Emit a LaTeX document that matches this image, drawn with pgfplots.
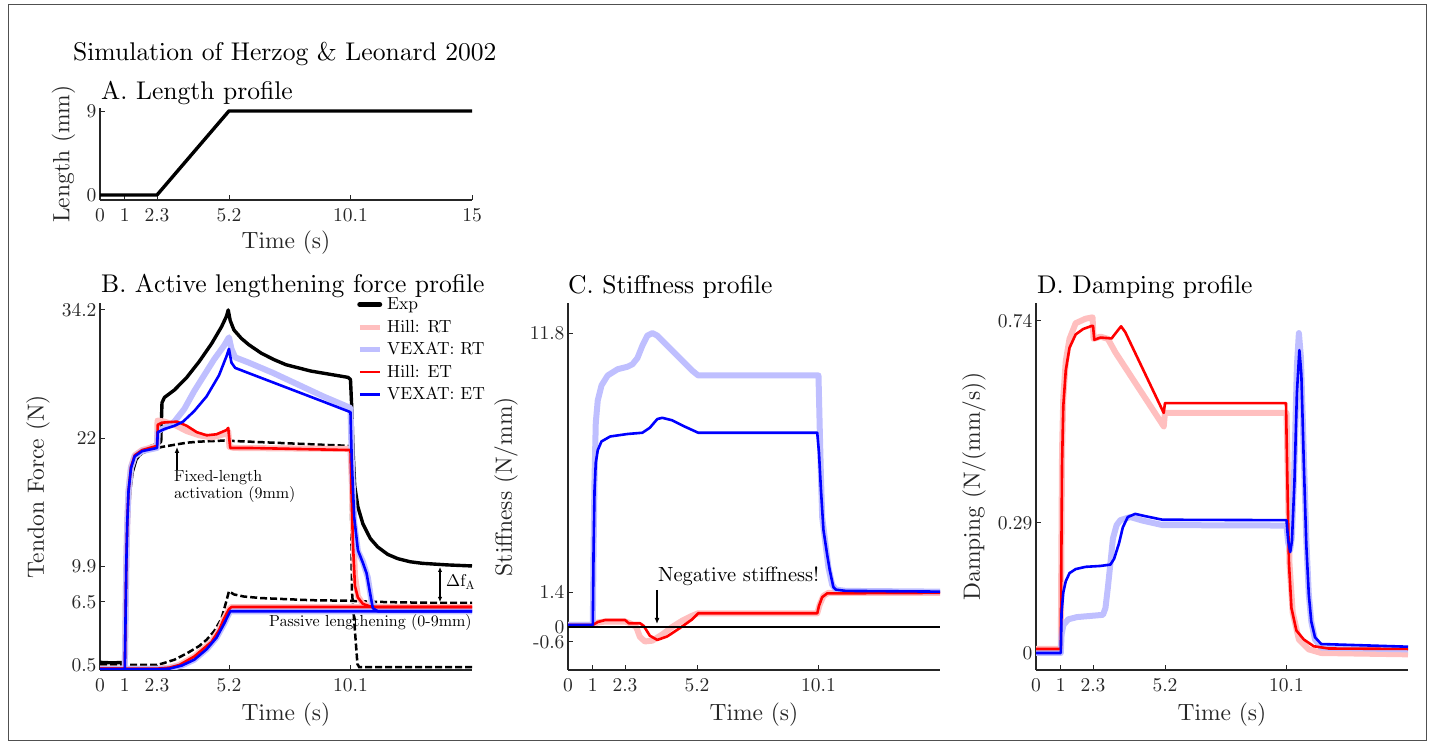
\documentclass[border=0pt]{standalone}
\usepackage{pgfplots}
\pgfplotsset{compat=1.18}
\usetikzlibrary{arrows.meta}
\definecolor{axcol}{RGB}{38,38,38}
\definecolor{palered}{RGB}{255,191,191}
\definecolor{paleblue}{RGB}{191,191,255}
\definecolor{framecol}{RGB}{80,80,80}
% Computer Modern 10 design, scaled (as in the reference)
\font\fT=cmr10 at 25.6bp
\font\fL=cmr10 at 23.5bp
\font\fK=cmr10 at 19.5bp
\font\fG=cmr10 at 17.5bp
\font\fA=cmr10 at 16bp
\font\fN=cmr10 at 20.5bp
\font\fD=cmr10 at 17bp
\font\fDs=cmr10 at 12bp
\pgfplotsset{
  panel/.style={
    scale only axis, width=372bp, height=367bp, xmin=0, xmax=15,
    axis x line*=bottom, axis y line*=left,
    axis line style={line width=1.4bp, axcol},
    tick align=inside, major tick length=5bp,
    every tick/.style={line width=0.9bp, axcol},
    tick label style={font=\fK, color=axcol},
    xticklabel style={yshift=-5.5bp},
    label style={font=\fL, color=axcol},
    xlabel={Time (s)},
    xlabel style={at={(axis description cs:0.5,-0.1226)}, anchor=center},
    ylabel style={at={(axis description cs:-0.1667,0.5)}, anchor=center},
    xtick={0,1,2.3,5.2,10.1}, xticklabels={0,1,2.3,5.2,10.1},
  },
  pale/.style={line width=6bp, line join=round},
  sol/.style={line width=2.6bp, line join=round},
  expl/.style={black, line width=3.4bp, line join=round},
  expd/.style={black, line width=2.5bp, dash pattern=on 7bp off 3bp},
}
\begin{document}
\begin{tikzpicture}
\useasboundingbox (0,0) rectangle (1434bp,745bp);
\draw[framecol, line width=1bp] (8.5bp,4bp) rectangle (1426.5bp,740bp);

% ---------------- A. Length profile
\begin{axis}[panel, at={(100bp,545bp)}, anchor=south west, height=92bp,
  ymin=-0.54, ymax=9.32, ytick={0,9}, yticklabels={0,9},
  xtick={0,1,2.3,5.2,10.1,15}, xticklabels={0,1,2.3,5.2,10.1,15},
  ylabel={Length (mm)},
  ylabel style={at={(axis description cs:-0.0981,0.5)}},
  xlabel style={at={(axis description cs:0.5,-0.467)}}]
\addplot[expl] coordinates {(0,0)(2.3,0)(5.2,9)(15,9)};
\end{axis}

% ---------------- B. Active lengthening force profile
\begin{axis}[panel, at={(100bp,75bp)}, anchor=south west,
  ymin=0.025, ymax=34.86, ytick={0.5,6.5,9.9,22,34.2}, yticklabels={0.5,6.5,9.9,22,34.2},
  ylabel={Tendon Force (N)},
  legend style={at={(axis description cs:0.691,1.02)}, anchor=north west, draw=none, fill=none,
    inner sep=0pt, font=\fG, row sep=5bp, column sep=3bp},
  legend cell align=left,
  legend image code/.code={\draw[#1] (0bp,0bp) -- (20bp,0bp);}]
\addlegendimage{black, line width=5bp, line cap=round}
\addlegendentry{Exp}
\addlegendimage{palered, line width=5bp}
\addlegendentry{Hill: RT}
\addlegendimage{paleblue, line width=5bp}
\addlegendentry{VEXAT: RT}
\addlegendimage{red, line width=2.6bp}
\addlegendentry{Hill: ET}
\addlegendimage{blue, line width=2.6bp}
\addlegendentry{VEXAT: ET}
% experiment: active lengthening
\addplot[expl, forget plot] coordinates {(0,0.75)(0.5,0.7)(0.98,0.75)(1.0,0.7)(1.04,5)(1.08,10)(1.13,14)(1.2,17)(1.3,18.8)(1.45,20)(1.7,20.8)(2.0,21.2)(2.35,21.5)(2.45,21.7)(2.5,25.4)(2.6,25.9)(3.0,26.6)(3.5,27.8)(4.0,29.3)(4.5,31.0)(4.9,32.6)(5.1,33.6)(5.17,34.2)(5.25,33.2)(5.4,32.3)(5.7,31.5)(6.0,30.9)(6.5,30.1)(7.0,29.5)(7.5,29.0)(8.0,28.7)(8.5,28.4)(9.0,28.2)(9.5,28.0)(10.0,27.8)(10.1,27.6)(10.15,25)(10.2,21)(10.27,17.5)(10.4,15.5)(10.6,13.9)(10.9,12.5)(11.2,11.7)(11.6,11.0)(12.0,10.6)(12.5,10.3)(13.0,10.15)(14.0,10.0)(15.0,9.9)};
% experiment: fixed-length activation
\addplot[expd, forget plot] coordinates {(1.0,0.7)(1.04,5)(1.08,10)(1.13,14)(1.2,17)(1.3,18.8)(1.45,20)(1.7,20.6)(2.0,20.9)(2.5,21.2)(3.0,21.4)(3.5,21.6)(4,21.7)(5,21.8)(6,21.7)(7,21.6)(8,21.5)(9,21.4)(10.05,21.3)(10.1,21.2)(10.16,7.5)(10.38,0.6)(10.45,0.3)(12,0.3)(15,0.3)};
% experiment: passive lengthening
\addplot[expd, forget plot] coordinates {(0,0.5)(1,0.5)(2.3,0.5)(2.6,0.7)(3.0,1.0)(3.5,1.6)(4.0,2.3)(4.3,2.9)(4.6,3.7)(4.9,4.9)(5.1,6.6)(5.2,7.5)(5.4,7.2)(5.8,7.0)(6.5,6.85)(7.5,6.75)(8.5,6.65)(10,6.6)(11,6.5)(12,6.45)(13.5,6.4)(15,6.4)};
% Hill RT
\addplot[pale, palered, forget plot] coordinates {(0,0.15)(1.0,0.15)(1.03,5)(1.06,10)(1.1,14)(1.15,17)(1.25,19.3)(1.4,20.4)(1.7,20.9)(2.3,21.3)(2.32,23.7)(2.6,23.6)(3.0,23.3)(3.5,22.7)(4.0,22.3)(4.5,22.1)(5.0,22.4)(5.17,22.7)(5.22,21.2)(5.4,21.1)(10.1,21.0)(10.15,18)(10.2,14)(10.28,9)(10.4,7)(10.6,6.3)(10.9,6.05)(11.5,6.0)(15,6.0)};
\addplot[pale, palered, forget plot] coordinates {(0,0.15)(2.3,0.15)(2.8,0.25)(3.2,0.5)(3.8,1.3)(4.2,2.1)(4.5,2.7)(4.8,3.8)(5.0,4.9)(5.2,5.8)(5.3,6.0)(15,6.0)};
% VEXAT RT
\addplot[pale, paleblue, forget plot] coordinates {(0,0.1)(1.0,0.1)(1.03,5)(1.06,10)(1.1,14)(1.15,17)(1.25,19.2)(1.4,20.3)(1.7,20.8)(2.3,21.1)(2.33,22.7)(2.6,23.0)(3.0,23.6)(3.4,24.8)(3.8,26.5)(4.2,28.0)(4.6,29.5)(5.0,30.8)(5.2,31.6)(5.3,30.5)(5.45,29.7)(6,29.2)(7,28.2)(8,27.1)(9,26.0)(10.1,24.9)(10.15,20)(10.25,14)(10.4,11.3)(10.6,10.3)(10.8,8.8)(10.95,6.5)(11.1,5.8)(15,5.7)};
\addplot[pale, paleblue, forget plot] coordinates {(0,0.1)(2.3,0.1)(2.8,0.15)(3.3,0.45)(3.8,1.0)(4.3,2.0)(4.7,3.1)(5.0,4.4)(5.25,5.6)(15,5.6)};
% Hill ET
\addplot[sol, red, forget plot] coordinates {(0,0.15)(1.0,0.15)(1.03,5)(1.06,10)(1.1,14)(1.15,17)(1.25,19.3)(1.4,20.4)(1.7,20.9)(2.3,21.3)(2.33,23.3)(2.5,23.5)(3.1,23.6)(3.5,23.2)(3.9,22.6)(4.3,22.3)(4.7,22.4)(5.1,22.8)(5.17,23.0)(5.25,21.1)(6,21.1)(10.1,20.9)(10.14,17)(10.2,12)(10.28,8.0)(10.4,6.9)(10.6,6.3)(10.9,6.05)(11.2,6.0)(15,6.0)};
\addplot[sol, red, forget plot] coordinates {(0,0.15)(2.3,0.15)(2.8,0.25)(3.2,0.5)(3.8,1.3)(4.2,2.1)(4.5,2.7)(4.8,3.8)(5.0,4.9)(5.2,5.8)(5.3,6.0)(15,6.0)};
% VEXAT ET
\addplot[sol, blue, forget plot] coordinates {(0,0.1)(1.0,0.1)(1.03,5)(1.06,10)(1.1,14)(1.15,17)(1.25,19.2)(1.4,20.3)(1.7,20.8)(2.3,21.1)(2.33,22.6)(2.6,22.9)(3.0,23.2)(3.35,23.6)(3.8,24.6)(4.3,26.0)(4.8,28.0)(5.1,29.8)(5.2,30.5)(5.3,29.2)(5.45,28.7)(6,28.2)(7,27.3)(8,26.4)(9,25.5)(10.1,24.5)(10.15,20)(10.25,14.5)(10.4,11.4)(10.6,10.2)(10.75,9.2)(10.9,7.2)(11.0,5.9)(11.2,5.6)(15,5.6)};
\addplot[sol, blue, forget plot] coordinates {(0,0.1)(2.3,0.1)(2.8,0.15)(3.3,0.45)(3.8,1.0)(4.3,2.0)(4.7,3.1)(5.0,4.4)(5.25,5.6)(15,5.6)};
\end{axis}

% ---------------- C. Stiffness profile
\begin{axis}[panel, at={(568bp,75bp)}, anchor=south west,
  ymin=-1.727, ymax=13.01, ytick={-0.6,0,1.4,11.8}, yticklabels={-0.6,0,1.4,11.8},
  ylabel={Stiffness (N/mm)}]
\addplot[pale, palered] coordinates {(0,0.08)(1.0,0.08)(1.2,0.18)(1.5,0.22)(2.3,0.22)(2.5,0.15)(2.75,0.0)(2.9,-0.4)(3.1,-0.58)(3.4,-0.55)(3.8,-0.3)(4.2,0.0)(4.6,0.25)(5.0,0.45)(5.25,0.55)(10.05,0.55)(10.15,0.9)(10.3,1.25)(10.5,1.37)(15,1.37)};
\addplot[pale, paleblue] coordinates {(0,0.08)(1.0,0.08)(1.03,3)(1.07,6)(1.12,8.2)(1.2,9.1)(1.35,9.7)(1.6,10.1)(2.0,10.35)(2.4,10.45)(2.6,10.55)(2.8,10.8)(3.0,11.3)(3.2,11.7)(3.4,11.8)(3.6,11.7)(4.0,11.3)(4.5,10.8)(5.0,10.3)(5.25,10.1)(10.1,10.1)(10.15,8)(10.2,6)(10.25,4.4)(10.4,3.2)(10.5,2.4)(10.65,1.7)(10.8,1.5)(11.2,1.45)(15,1.42)};
\addplot[sol, red] coordinates {(0,0.08)(1.0,0.08)(1.2,0.2)(1.5,0.28)(2.3,0.28)(2.45,0.15)(2.9,0.15)(3.05,0.05)(3.3,-0.35)(3.6,-0.52)(4.0,-0.38)(4.5,-0.05)(5.0,0.3)(5.25,0.55)(10.05,0.55)(10.12,0.85)(10.25,1.2)(10.45,1.35)(15,1.37)};
\addplot[sol, blue] coordinates {(0,0.08)(1.0,0.08)(1.03,3)(1.07,5.5)(1.12,6.6)(1.2,7.1)(1.35,7.45)(1.7,7.65)(2.4,7.75)(3.0,7.8)(3.3,8.0)(3.6,8.35)(3.8,8.4)(4.2,8.3)(4.7,8.05)(5.25,7.8)(10.05,7.8)(10.12,7.0)(10.2,5.5)(10.3,3.9)(10.45,2.9)(10.55,2.3)(10.7,1.6)(10.8,1.5)(11.2,1.45)(15,1.42)};
\addplot[black, line width=1.3bp] coordinates {(0,0)(15,0)};
\end{axis}

% ---------------- D. Damping profile
\begin{axis}[panel, at={(1036bp,75bp)}, anchor=south west,
  ymin=-0.0379, ymax=0.780, ytick={0,0.29,0.74}, yticklabels={0,0.29,0.74},
  ylabel={Damping (N/(mm/s))}]
\addplot[pale, palered] coordinates {(0,0.009)(1.0,0.009)(1.02,0.2)(1.05,0.45)(1.1,0.57)(1.2,0.65)(1.35,0.70)(1.6,0.735)(2.0,0.745)(2.28,0.748)(2.32,0.70)(2.6,0.705)(2.9,0.70)(3.2,0.67)(5.15,0.505)(5.2,0.535)(10.1,0.535)(10.15,0.4)(10.22,0.2)(10.35,0.09)(10.6,0.03)(11,0.008)(11.5,0.0)(15,-0.003)};
\addplot[pale, paleblue] coordinates {(0,0.0)(1.0,0.0)(1.03,0.04)(1.1,0.062)(1.3,0.075)(1.65,0.08)(2.7,0.085)(2.8,0.1)(2.9,0.147)(3.0,0.2)(3.1,0.255)(3.25,0.285)(3.4,0.296)(3.8,0.303)(4.3,0.295)(5.1,0.285)(10.1,0.284)(10.17,0.245)(10.25,0.23)(10.32,0.26)(10.42,0.42)(10.52,0.64)(10.6,0.713)(10.68,0.66)(10.8,0.44)(10.9,0.25)(11.0,0.13)(11.1,0.07)(11.25,0.03)(11.5,0.012)(15,0.008)};
\addplot[sol, red] coordinates {(0,0.009)(1.0,0.009)(1.02,0.2)(1.05,0.42)(1.1,0.55)(1.2,0.63)(1.35,0.68)(1.6,0.71)(1.9,0.722)(2.25,0.729)(2.3,0.729)(2.35,0.698)(2.6,0.703)(3.05,0.701)(3.2,0.712)(3.43,0.728)(3.6,0.715)(5.15,0.535)(5.2,0.557)(10.08,0.557)(10.13,0.4)(10.2,0.2)(10.3,0.1)(10.5,0.05)(10.8,0.03)(11.2,0.015)(11.8,0.01)(15,0.009)};
\addplot[sol, blue] coordinates {(0,0.0)(1.0,0.0)(1.03,0.09)(1.1,0.135)(1.2,0.16)(1.35,0.178)(1.6,0.187)(2.0,0.192)(2.6,0.194)(3.0,0.197)(3.15,0.21)(3.35,0.245)(3.5,0.28)(3.7,0.303)(4.0,0.31)(4.4,0.305)(5.1,0.297)(10.1,0.296)(10.17,0.25)(10.25,0.225)(10.32,0.25)(10.42,0.38)(10.52,0.58)(10.62,0.675)(10.7,0.62)(10.8,0.42)(10.9,0.24)(11.0,0.13)(11.1,0.07)(11.25,0.035)(11.5,0.02)(15,0.014)};
\end{axis}

% ---------------- titles and annotations
\node[anchor=west, inner sep=0pt, font=\fT] at (73bp,691bp) {Simulation of Herzog \& Leonard 2002};
\node[anchor=west, inner sep=0pt, font=\fT] at (101bp,651.5bp) {A. Length profile};
\node[anchor=west, inner sep=0pt, font=\fT] at (101bp,458.5bp) {B. Active lengthening force profile};
\node[anchor=west, inner sep=0pt, font=\fT] at (568bp,457.5bp) {C. Stiffness profile};
\node[anchor=west, inner sep=0pt, font=\fT] at (1037bp,458bp) {D. Damping profile};

\draw[line width=1.5bp, -{Latex[length=6bp,width=5bp]}] (177bp,275bp) -- (177bp,298bp);
\node[anchor=west, inner sep=0pt, font=\fA] at (174bp,267bp) {Fixed-length};
\node[anchor=west, inner sep=0pt, font=\fA] at (174bp,250bp) {activation (9mm)};
\node[anchor=east, inner sep=0pt, font=\fA] at (472bp,122bp) {Passive lengthening (0-9mm)};
\draw[line width=1.5bp, {Latex[length=5bp,width=4.5bp]}-{Latex[length=5bp,width=4.5bp]}] (440bp,178bp) -- (440bp,143bp);
\node[anchor=west, inner sep=0pt] at (446bp,163bp) {\fD\char1 f\raisebox{-3bp}{\fDs A}};

\node[anchor=west, inner sep=0pt, font=\fN] at (658bp,169bp) {Negative stiffness!};
\draw[line width=1.5bp, -{Latex[length=6bp,width=5bp]}] (657bp,155bp) -- (657bp,121bp);
\end{tikzpicture}
\end{document}
